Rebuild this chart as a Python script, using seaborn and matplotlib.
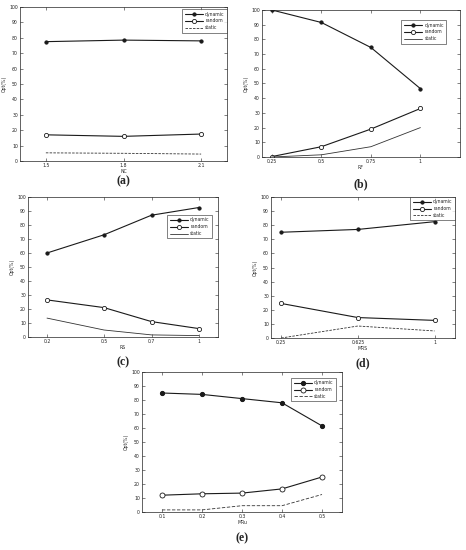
import matplotlib
matplotlib.use("Agg")
import matplotlib.pyplot as plt
import seaborn as sns

sns.set_style("ticks")
plt.rcParams['font.family'] = ['DejaVu Sans']

# ---- data ----
a_x = [1.5, 1.8, 2.1]
a_ticks = ["1.5", "1.8", "2.1"]
a_dynamic = [77.5, 78.5, 78.0]
a_random = [17.0, 16.0, 17.5]
a_static = [5.3, 5.0, 4.5]

b_x = [0.25, 0.5, 0.75, 1.0]
b_ticks = ["0.25", "0.5", "0.75", "1"]
b_dynamic = [100.0, 91.5, 74.5, 46.5]
b_random = [0.3, 7.0, 19.0, 33.0]
b_static = [0.0, 1.5, 7.0, 20.0]

c_x = [0.2, 0.5, 0.75, 1.0]
c_ticks = ["0.2", "0.5", "0.7", "1"]
c_dynamic = [60.0, 73.0, 87.0, 92.5]
c_random = [26.5, 21.0, 11.0, 6.0]
c_static = [13.5, 5.0, 1.5, 1.0]

d_x = [0.25, 0.625, 1.0]
d_ticks = ["0.25", "0.625", "1"]
d_dynamic = [75.0, 77.0, 82.5]
d_random = [24.5, 14.5, 12.5]
d_static = [0.0, 8.5, 5.0]

e_x = [0.1, 0.2, 0.3, 0.4, 0.5]
e_ticks = ["0.1", "0.2", "0.3", "0.4", "0.5"]
e_dynamic = [85.0, 84.0, 81.0, 78.0, 61.5]
e_random = [12.0, 13.0, 13.5, 16.5, 25.0]
e_static = [1.5, 1.5, 4.5, 4.5, 12.5]

series_names = ["dynamic", "random", "static"]
y_ticks = list(range(0, 101, 10))

W, H = 466, 550
fig = plt.figure(figsize=(W / 100, H / 100), dpi=100)


def px_axes(l, r, t, b):
    return fig.add_axes([l / W, 1 - b / H, (r - l) / W, (b - t) / H])


panels = [
    dict(box=(20, 227, 7, 161), x=a_x, ticks=a_ticks, d=a_dynamic, r=a_random, s=a_static,
         xlim=(1.4, 2.2), xlabel="NC", leg=(1.0, 0.985), sls=(0, (3, 1.5)), lab="(a)", laby=181,
         big=False),
    dict(box=(262, 460, 10, 157), x=b_x, ticks=b_ticks, d=b_dynamic, r=b_random, s=b_static,
         xlim=(0.2, 1.2), xlabel="RF", leg=(0.93, 0.93), sls="-", lab="(b)", laby=184, big=False),
    dict(box=(28, 218, 197, 337), x=c_x, ticks=c_ticks, d=c_dynamic, r=c_random, s=c_static,
         xlim=(0.1, 1.1), xlabel="RS", leg=(0.968, 0.87), sls="-", lab="(c)", laby=362, big=False),
    dict(box=(271, 455, 197, 338), x=d_x, ticks=d_ticks, d=d_dynamic, r=d_random, s=d_static,
         xlim=(0.2, 1.1), xlabel="MRS", leg=(1.0, 1.0), sls=(0, (3, 1.5)), lab="(d)", laby=363,
         big=False),
    dict(box=(142, 342, 372, 512), x=e_x, ticks=e_ticks, d=e_dynamic, r=e_random, s=e_static,
         xlim=(0.05, 0.55), xlabel="MRu", leg=(0.97, 0.957), sls=(0, (4, 2)), lab="(e)", laby=538,
         big=True),
]

for p in panels:
    l, r, t, b = p["box"]
    ax = px_axes(l, r, t, b)
    ms_d = 3.0 if p["big"] else 2.3
    ms_r = 3.6 if p["big"] else 3.0
    sns.lineplot(x=p["x"], y=p["d"], ax=ax, color="#1a1a1a", lw=0.8, marker="o",
                 markersize=ms_d, markerfacecolor="#1a1a1a", markeredgecolor="#1a1a1a",
                 label=series_names[0])
    sns.lineplot(x=p["x"], y=p["r"], ax=ax, color="#1a1a1a", lw=0.8, marker="o",
                 markersize=ms_r, markerfacecolor="white", markeredgecolor="#1a1a1a",
                 markeredgewidth=0.6, label=series_names[1])
    sns.lineplot(x=p["x"], y=p["s"], ax=ax, color="#333333", lw=0.6, linestyle=p["sls"],
                 label=series_names[2])
    ax.set_xlim(*p["xlim"])
    ax.set_ylim(0, 100)
    ax.set_xticks(p["x"])
    ax.set_xticklabels(p["ticks"])
    ax.set_yticks(y_ticks)
    ax.tick_params(direction="in", length=2, width=0.4, labelsize=3.3, pad=1.5,
                   top=True, right=True, colors="#222222")
    for sp in ax.spines.values():
        sp.set_linewidth(0.5)
        sp.set_color("#222222")
    ax.set_xlabel(p["xlabel"], fontsize=3.3, labelpad=0.5)
    ax.set_ylabel("Opt(%)", fontsize=3.3, labelpad=2)
    leg = ax.legend(loc="upper right", bbox_to_anchor=p["leg"], fontsize=3.3, frameon=True,
                    fancybox=False, edgecolor="#222222", handlelength=4.0, borderpad=0.5,
                    labelspacing=0.4, handletextpad=0.5, borderaxespad=0.0)
    leg.get_frame().set_linewidth(0.5)
    cx = (l + r) / 2 / W
    fig.text(cx, 1 - p["laby"] / H, p["lab"], ha="center", va="center",
             fontsize=8.5, fontweight="bold", family=["Liberation Serif", "DejaVu Serif"])

fig.savefig("out.png", dpi=100, facecolor="white")
